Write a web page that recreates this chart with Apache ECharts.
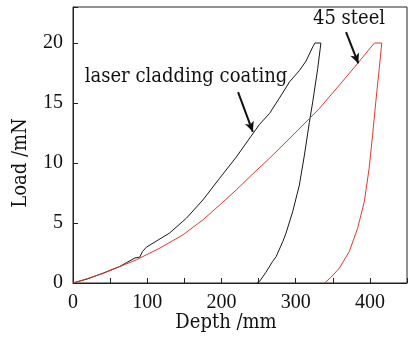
<!DOCTYPE html>
<html><head><meta charset="utf-8">
<script src="https://cdn.jsdelivr.net/npm/echarts@6/dist/echarts.min.js"></script>
<style>html,body{margin:0;padding:0;background:#fff}#c{width:414px;height:337px}</style>
</head><body><div id="c"></div>
<script>
// laser cladding coating (black): loading then unloading
const coatingDepth = [0,20,40.8,63,83.3,90,93.6,99,130,152.8,175,197.6,220,240,251,264.8,278,291.7,305,314,323,326,334,
  329.7,323,318.5,311.8,305,296,287,282.7,273.8,269,260,251.3,248];
const coatingLoad = [0,0.35,0.83,1.38,2.08,2.16,2.63,2.99,4.16,5.4,6.92,8.73,10.5,12.24,13.2,14.13,15.4,16.76,17.7,18.5,19.67,20,20,
  17.87,15.1,13.4,10.67,8.17,5.95,4.16,3.46,2.21,1.8,0.9,0.13,0];
// 45 steel (red): loading then unloading
const steelDepth = [0,20,40.8,85.6,117,148,175,197.6,220,242.4,264.8,287,318.5,332,359,383.5,406,416,
  412.6,408,403.6,399,392.5,383.5,372.3,359,348,339];
const steelLoad = [0,0.38,0.8,1.94,2.91,4.01,5.26,6.5,7.76,9.1,10.4,11.75,13.7,14.55,16.5,18.3,20,20,
  17.87,15.1,12.3,9.56,6.78,4.57,2.63,1.25,0.5,0];
const xTicks = [0,100,200,300,400];
const yTicks = [0,5,10,15,20];
const xName = 'Depth /mm';
const yName = 'Load /mN';
const coatingLabel = 'laser cladding coating';
const steelLabel = '45 steel';
// arrows (data coordinates): [from, to]
const coatingArrow = [[222.4,15.9],[242.3,12.6]];
const steelArrow = [[367.9,20.9],[384.4,18.3]];

const zip = (a,b)=>a.map((v,i)=>[v,b[i]]);
const TICKFONT = 'Liberation Serif';
const TXT = '20px "DejaVu Serif Condensed", "DejaVu Serif", serif';
const chart = echarts.init(document.getElementById('c'), null, {renderer:'canvas'});
chart.setOption({
  backgroundColor:'#ffffff',
  animation:false,
  grid:{left:73,right:7,top:7,bottom:54,show:true,borderColor:'#222',borderWidth:1,backgroundColor:'transparent'},
  xAxis:{type:'value',min:0,max:450,interval:50,
    axisLine:{lineStyle:{color:'#222',width:1}},
    axisTick:{inside:true,length:5,lineStyle:{color:'#222'}},
    splitLine:{show:false},
    axisLabel:{margin:10,color:'#111',fontFamily:TICKFONT,fontSize:20,
      formatter:v=>xTicks.includes(v)?String(v):''}},
  yAxis:{type:'value',min:0,max:23,interval:5,
    axisLine:{show:true,lineStyle:{color:'#222',width:1}},
    axisTick:{show:true,inside:true,length:5,lineStyle:{color:'#222'}},
    splitLine:{show:false},
    axisLabel:{margin:10,color:'#111',fontFamily:TICKFONT,fontSize:20,
      formatter:v=>yTicks.includes(v)?String(v):''}},
  graphic:[
    {type:'text',x:226,y:323,style:{text:xName,align:'center',verticalAlign:'middle',font:TXT,fill:'#111'}},
    {type:'text',x:21,y:163,rotation:Math.PI/2,style:{text:yName,align:'center',verticalAlign:'middle',font:TXT,fill:'#111'}},
    {type:'text',x:186,y:77,style:{text:coatingLabel,align:'center',verticalAlign:'middle',font:TXT,fill:'#111'}},
    {type:'text',x:349,y:19,style:{text:steelLabel,align:'center',verticalAlign:'middle',font:TXT,fill:'#111'}}
  ],
  series:[
    {type:'line',data:zip(coatingDepth,coatingLoad),showSymbol:false,lineStyle:{color:'#1a1a1a',width:1},
      markLine:{silent:true,symbol:['none','arrow'],symbolSize:[7,10],lineStyle:{color:'#111',width:2,type:'solid'},label:{show:false},
        data:[[{coord:coatingArrow[0]},{coord:coatingArrow[1]}]]}},
    {type:'line',data:zip(steelDepth,steelLoad),showSymbol:false,lineStyle:{color:'#e0392f',width:1},
      markLine:{silent:true,symbol:['none','arrow'],symbolSize:[7,10],lineStyle:{color:'#111',width:2,type:'solid'},label:{show:false},
        data:[[{coord:steelArrow[0]},{coord:steelArrow[1]}]]}}
  ]
});
</script></body></html>
